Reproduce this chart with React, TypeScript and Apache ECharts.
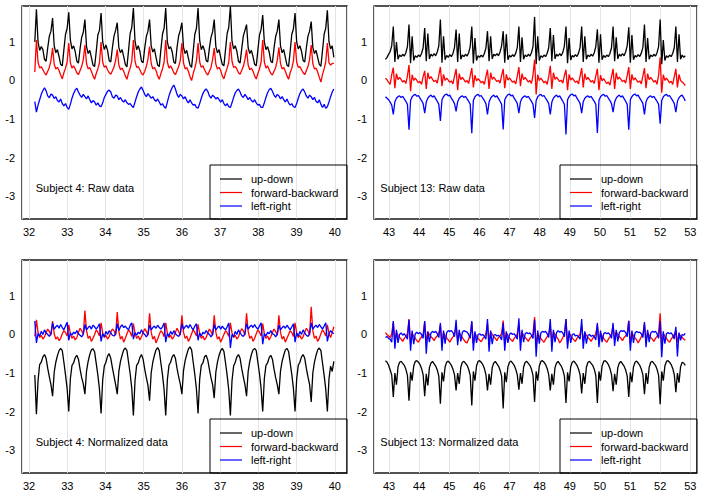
import React, { useEffect, useRef } from "react";
import * as echarts from "echarts";

// ---------- sampling ----------
const S4_T0 = 32.15;
const S4_DT = 0.0423;
const S13_T0 = 42.88;
const S13_DT = 0.0521;

// ---------- axis ranges ----------
const S4_X_RANGE = [31.815, 40.32];
const S13_X_RANGE = [42.5, 53.22];
const Y_RANGE = [-3.595, 1.933];

const SERIES_NAMES = ["up-down", "forward-backward", "left-right"];
const SERIES_COLORS = ["#000000", "#ff0000", "#0000ff"];
const PANEL_TITLES = [
  "Subject 4: Raw data",
  "Subject 13: Raw data",
  "Subject 4: Normalized data",
  "Subject 13: Normalized data",
];

// ---------- Subject 4, raw ----------
const S4_RAW_UD = [
  1.0,
  1.85, 1.0, 0.78, 0.88, 0.8, 0.55, 0.5, 0.85, 1.15, 1.28,
  1.62, 0.9, 0.72, 0.8, 0.62, 0.42, 0.38, 0.8, 1.2, 1.35,
  1.77, 1.05, 0.82, 0.9, 0.75, 0.5, 0.45, 0.82, 1.12, 1.25,
  1.58, 0.88, 0.7, 0.78, 0.6, 0.4, 0.36, 0.75, 1.18, 1.3,
  1.75, 1.0, 0.8, 0.92, 0.78, 0.52, 0.48, 0.85, 1.15, 1.3,
  1.5, 0.85, 0.72, 0.8, 0.62, 0.42, 0.35, 0.78, 1.22, 1.38,
  1.88, 1.02, 0.8, 0.9, 0.76, 0.5, 0.46, 0.84, 1.14, 1.28,
  1.58, 0.9, 0.74, 0.82, 0.6, 0.4, 0.36, 0.8, 1.2, 1.36,
  1.88, 1.0, 0.82, 0.88, 0.74, 0.48, 0.44, 0.86, 1.16, 1.3,
  1.5, 0.86, 0.7, 0.78, 0.58, 0.4, 0.34, 0.76, 1.2, 1.35,
  1.88, 1.04, 0.8, 0.9, 0.78, 0.52, 0.48, 0.84, 1.12, 1.26,
  1.58, 0.88, 0.72, 0.8, 0.6, 0.42, 0.38, 0.8, 1.22, 1.38,
  1.92, 1.02, 0.82, 0.9, 0.76, 0.5, 0.45, 0.82, 1.15, 1.3,
  1.45, 0.85, 0.7, 0.78, 0.62, 0.42, 0.38, 0.78, 1.18, 1.32,
  1.7, 1.0, 0.8, 0.88, 0.74, 0.5, 0.46, 0.84, 1.14, 1.28,
  1.58, 0.9, 0.72, 0.8, 0.6, 0.4, 0.36, 0.76, 1.2, 1.34,
  1.75, 1.0, 0.82, 0.9, 0.76, 0.52, 0.48, 0.85, 1.15, 1.28,
  1.53, 0.86, 0.7, 0.78, 0.6, 0.42, 0.37, 0.78, 1.2, 1.36,
  1.82, 1.0, 0.82, 0.9, 0.6,
];
const S4_RAW_FB = [
  0.22,
  1.05, 0.48, 0.32, 0.36, 0.28, 0.2, 0.14, 0.24, 0.34, 0.52,
  0.85, 0.42, 0.3, 0.34, 0.26, 0.14, 0.04, 0.2, 0.32, 0.48,
  0.97, 0.46, 0.32, 0.38, 0.3, 0.2, 0.15, 0.26, 0.36, 0.54,
  0.92, 0.44, 0.3, 0.34, 0.24, 0.12, 0.03, 0.18, 0.3, 0.46,
  1.0, 0.48, 0.34, 0.38, 0.28, 0.2, 0.16, 0.25, 0.35, 0.52,
  0.8, 0.4, 0.28, 0.32, 0.24, 0.12, 0.03, 0.2, 0.32, 0.5,
  1.05, 0.5, 0.34, 0.36, 0.28, 0.18, 0.14, 0.24, 0.36, 0.55,
  0.88, 0.44, 0.3, 0.34, 0.26, 0.12, 0.03, 0.18, 0.3, 0.48,
  1.05, 0.48, 0.32, 0.38, 0.3, 0.2, 0.15, 0.26, 0.36, 0.52,
  0.97, 0.46, 0.3, 0.34, 0.24, 0.1, 0.0, 0.18, 0.32, 0.5,
  0.97, 0.48, 0.34, 0.38, 0.28, 0.2, 0.14, 0.24, 0.34, 0.54,
  0.84, 0.42, 0.3, 0.34, 0.26, 0.12, 0.04, 0.2, 0.32, 0.48,
  1.0, 0.5, 0.34, 0.36, 0.3, 0.2, 0.16, 0.26, 0.36, 0.54,
  0.8, 0.4, 0.28, 0.32, 0.24, 0.12, 0.04, 0.18, 0.3, 0.48,
  1.05, 0.48, 0.32, 0.38, 0.28, 0.18, 0.14, 0.24, 0.34, 0.52,
  0.86, 0.44, 0.3, 0.34, 0.24, 0.12, 0.03, 0.2, 0.32, 0.5,
  1.0, 0.48, 0.34, 0.36, 0.28, 0.2, 0.15, 0.26, 0.36, 0.54,
  0.92, 0.44, 0.3, 0.32, 0.22, 0.08, -0.04, 0.16, 0.3, 0.48,
  0.97, 0.46, 0.4, 0.44, 0.45,
];
const S4_RAW_LR = [
  -0.55,
  -0.82, -0.64, -0.5, -0.36, -0.26, -0.19, -0.27, -0.4, -0.45, -0.35, -0.38, -0.47, -0.42, -0.52, -0.56, -0.48, -0.6, -0.66, -0.6, -0.7,
  -0.75, -0.62, -0.46, -0.34, -0.25, -0.2, -0.3, -0.38, -0.44, -0.36, -0.42, -0.48, -0.4, -0.5, -0.58, -0.52, -0.56, -0.64, -0.58, -0.66,
  -0.68, -0.58, -0.44, -0.36, -0.28, -0.25, -0.3, -0.42, -0.46, -0.38, -0.4, -0.5, -0.44, -0.52, -0.56, -0.5, -0.58, -0.62, -0.6, -0.66,
  -0.7, -0.56, -0.42, -0.3, -0.22, -0.17, -0.26, -0.36, -0.42, -0.34, -0.4, -0.46, -0.42, -0.5, -0.54, -0.48, -0.56, -0.64, -0.6, -0.68,
  -0.72, -0.56, -0.4, -0.28, -0.18, -0.12, -0.22, -0.36, -0.44, -0.36, -0.4, -0.48, -0.42, -0.52, -0.58, -0.5, -0.58, -0.64, -0.62, -0.7,
  -0.72, -0.6, -0.46, -0.34, -0.26, -0.22, -0.28, -0.4, -0.46, -0.38, -0.42, -0.48, -0.44, -0.5, -0.56, -0.5, -0.6, -0.66, -0.6, -0.68,
  -0.7, -0.58, -0.44, -0.32, -0.26, -0.22, -0.3, -0.4, -0.44, -0.36, -0.42, -0.5, -0.44, -0.52, -0.56, -0.5, -0.58, -0.64, -0.62, -0.7,
  -0.7, -0.58, -0.44, -0.32, -0.24, -0.2, -0.28, -0.38, -0.44, -0.36, -0.4, -0.48, -0.42, -0.5, -0.56, -0.48, -0.58, -0.64, -0.6, -0.68,
  -0.7, -0.6, -0.46, -0.34, -0.26, -0.22, -0.3, -0.4, -0.46, -0.38, -0.42, -0.5, -0.44, -0.54, -0.58, -0.5, -0.62, -0.7, -0.62, -0.72,
  -0.68, -0.56, -0.42, -0.3, -0.22,
];

// ---------- Subject 4, normalized ----------
const S4_NORM_UD = [
  -1.05,
  -2.07, -1.2, -0.78, -0.72, -0.58, -0.52, -0.62, -0.88, -1.1, -1.3,
  -1.6, -0.98, -0.72, -0.55, -0.42, -0.36, -0.42, -0.72, -1.05, -1.4,
  -2.0, -1.15, -0.8, -0.74, -0.6, -0.54, -0.64, -0.9, -1.12, -1.28,
  -1.55, -0.95, -0.7, -0.52, -0.4, -0.37, -0.45, -0.75, -1.05, -1.42,
  -2.05, -1.18, -0.82, -0.72, -0.56, -0.5, -0.62, -0.86, -1.08, -1.3,
  -1.55, -0.96, -0.7, -0.54, -0.4, -0.35, -0.42, -0.72, -1.02, -1.4,
  -2.1, -1.2, -0.8, -0.74, -0.6, -0.52, -0.64, -0.9, -1.12, -1.32,
  -1.72, -1.0, -0.72, -0.54, -0.4, -0.34, -0.42, -0.74, -1.05, -1.44,
  -2.1, -1.18, -0.8, -0.72, -0.58, -0.52, -0.62, -0.88, -1.1, -1.28,
  -1.55, -0.94, -0.68, -0.52, -0.38, -0.32, -0.4, -0.72, -1.04, -1.42,
  -2.05, -1.16, -0.8, -0.74, -0.58, -0.54, -0.66, -0.9, -1.12, -1.3,
  -1.65, -0.98, -0.72, -0.54, -0.42, -0.36, -0.44, -0.74, -1.06, -1.44,
  -2.1, -1.2, -0.82, -0.72, -0.58, -0.52, -0.62, -0.88, -1.1, -1.3,
  -1.6, -0.96, -0.7, -0.52, -0.4, -0.36, -0.42, -0.72, -1.02, -1.4,
  -2.0, -1.15, -0.8, -0.74, -0.6, -0.54, -0.64, -0.9, -1.12, -1.3,
  -1.55, -0.95, -0.7, -0.54, -0.4, -0.36, -0.44, -0.74, -1.04, -1.4,
  -2.0, -1.16, -0.8, -0.72, -0.58, -0.52, -0.62, -0.88, -1.1, -1.3,
  -1.75, -1.0, -0.72, -0.54, -0.4, -0.35, -0.42, -0.74, -1.06, -1.42,
  -2.0, -1.15, -0.82, -0.96, -0.7,
];
const S4_NORM_FB = [
  -0.05,
  0.38, 0.05, -0.08, -0.02, -0.12, -0.06, 0.05, 0.14, 0.08, -0.02,
  0.35, 0.02, -0.12, -0.06, -0.16, -0.1, 0.02, 0.1, 0.05, -0.04,
  0.25, 0.02, -0.1, -0.04, -0.14, -0.08, 0.06, 0.16, 0.1, 0.0,
  0.62, 0.1, -0.1, -0.04, -0.18, -0.1, 0.0, 0.12, 0.06, -0.04,
  0.3, 0.04, -0.08, -0.02, -0.12, -0.06, 0.06, 0.14, 0.1, -0.02,
  0.58, 0.08, -0.12, -0.05, -0.2, -0.1, 0.02, 0.12, 0.06, -0.05,
  0.28, 0.02, -0.1, -0.04, -0.14, -0.06, 0.05, 0.15, 0.08, -0.02,
  0.55, 0.06, -0.12, -0.05, -0.22, -0.12, 0.0, 0.1, 0.05, -0.06,
  0.3, 0.04, -0.08, -0.02, -0.12, -0.06, 0.06, 0.16, 0.08, -0.02,
  0.5, 0.06, -0.1, -0.04, -0.18, -0.1, 0.02, 0.12, 0.06, -0.04,
  0.26, 0.02, -0.1, -0.04, -0.14, -0.08, 0.04, 0.14, 0.08, -0.02,
  0.5, 0.06, -0.12, -0.06, -0.2, -0.1, 0.0, 0.1, 0.05, -0.05,
  0.3, 0.04, -0.08, -0.02, -0.12, -0.06, 0.06, 0.15, 0.1, -0.02,
  0.55, 0.08, -0.1, -0.04, -0.18, -0.1, 0.02, 0.12, 0.06, -0.04,
  0.28, 0.02, -0.1, -0.04, -0.14, -0.06, 0.05, 0.14, 0.08, -0.02,
  0.5, 0.06, -0.12, -0.05, -0.2, -0.1, 0.0, 0.1, 0.05, -0.05,
  0.3, 0.04, -0.08, -0.02, -0.12, -0.06, 0.06, 0.16, 0.1, -0.02,
  0.72, 0.1, -0.1, -0.04, -0.18, -0.1, 0.02, 0.12, 0.06, -0.04,
  0.25, 0.02, -0.08, 0.05, 0.2,
];
const S4_NORM_LR = [
  0.35,
  -0.22, 0.02, -0.04, 0.08, 0.0, 0.12, 0.04, 0.0, -0.05, 0.02, 0.3, 0.14, 0.2, 0.24, 0.16, 0.26, 0.18, 0.12, 0.22, 0.32,
  -0.15, 0.04, -0.02, 0.06, 0.02, 0.1, 0.02, -0.02, -0.06, 0.0, 0.26, 0.12, 0.18, 0.22, 0.14, 0.24, 0.2, 0.14, 0.2, 0.28,
  -0.18, 0.02, -0.06, 0.08, 0.0, 0.1, 0.04, -0.02, -0.04, 0.02, 0.28, 0.1, 0.2, 0.25, 0.18, 0.22, 0.16, 0.12, 0.24, 0.3,
  -0.12, 0.05, -0.02, 0.06, 0.02, 0.12, 0.04, 0.0, -0.06, 0.0, 0.24, 0.12, 0.18, 0.22, 0.16, 0.24, 0.18, 0.14, 0.2, 0.3,
  -0.2, 0.02, -0.04, 0.08, 0.0, 0.1, 0.02, -0.02, -0.05, 0.02, 0.28, 0.14, 0.2, 0.24, 0.16, 0.26, 0.18, 0.12, 0.22, 0.28,
  -0.15, 0.04, -0.04, 0.06, 0.02, 0.1, 0.04, 0.0, -0.06, 0.0, 0.26, 0.12, 0.18, 0.22, 0.14, 0.22, 0.16, 0.12, 0.2, 0.3,
  -0.35, 0.0, -0.06, 0.08, 0.0, 0.12, 0.04, -0.02, -0.05, 0.02, 0.28, 0.14, 0.2, 0.24, 0.18, 0.26, 0.18, 0.14, 0.22, 0.3,
  -0.25, 0.02, -0.04, 0.06, 0.02, 0.1, 0.02, 0.0, -0.06, 0.0, 0.24, 0.12, 0.18, 0.22, 0.16, 0.24, 0.18, 0.12, 0.2, 0.28,
  -0.2, 0.04, -0.04, 0.08, 0.0, 0.12, 0.04, -0.02, -0.05, 0.02, 0.3, 0.14, 0.2, 0.24, 0.18, 0.26, 0.2, 0.14, 0.22, 0.3,
  -0.18, 0.02, 0.1, 0.05, 0.02,
];

// ---------- Subject 13, raw ----------
const S13_RAW_UD = [
  0.55, 0.6, 0.68, 0.75, 0.9,
  1.4, 0.48, 1.0, 0.55, 0.66, 0.62, 0.68, 0.63, 0.72, 0.88,
  1.45, 0.45, 1.15, 0.52, 0.64, 0.6, 0.66, 0.62, 0.7, 0.85,
  1.36, 0.5, 1.22, 0.56, 0.68, 0.63, 0.7, 0.64, 0.74, 0.9,
  1.58, 0.46, 1.15, 0.54, 0.65, 0.6, 0.67, 0.62, 0.7, 0.86,
  1.32, 0.48, 1.22, 0.55, 0.66, 0.62, 0.68, 0.63, 0.72, 0.88,
  1.4, 0.44, 1.1, 0.52, 0.64, 0.6, 0.66, 0.61, 0.7, 0.84,
  1.28, 0.5, 1.15, 0.56, 0.68, 0.64, 0.7, 0.64, 0.74, 0.9,
  1.28, 0.46, 1.2, 0.54, 0.65, 0.61, 0.67, 0.62, 0.71, 0.86,
  1.4, 0.48, 1.12, 0.55, 0.66, 0.62, 0.68, 0.63, 0.72, 0.88,
  1.65, 0.42, 1.15, 0.52, 0.64, 0.6, 0.66, 0.62, 0.7, 0.85,
  1.36, 0.5, 1.18, 0.56, 0.68, 0.63, 0.7, 0.64, 0.73, 0.9,
  1.4, 0.45, 1.1, 0.53, 0.65, 0.61, 0.67, 0.62, 0.71, 0.86,
  1.4, 0.48, 1.15, 0.55, 0.66, 0.62, 0.68, 0.63, 0.72, 0.88,
  1.33, 0.46, 1.2, 0.54, 0.65, 0.6, 0.66, 0.62, 0.7, 0.85,
  1.4, 0.5, 1.12, 0.56, 0.68, 0.63, 0.7, 0.64, 0.74, 0.9,
  1.38, 0.46, 1.18, 0.54, 0.65, 0.61, 0.67, 0.62, 0.71, 0.86,
  1.45, 0.48, 1.1, 0.55, 0.66, 0.62, 0.68, 0.63, 0.72, 0.88,
  1.58, 0.42, 1.05, 0.52, 0.64, 0.6, 0.66, 0.62, 0.7, 0.85,
  1.4, 0.48, 1.2, 0.55, 0.66, 0.6, 0.64,
];
const S13_RAW_FB = [
  0.06, 0.02, -0.05, -0.1, 0.15,
  0.33, -0.2, 0.18, 0.02, 0.08, 0.02, -0.04, 0.0, -0.08, 0.12,
  0.4, -0.28, 0.15, 0.0, 0.06, 0.0, -0.06, -0.02, -0.1, 0.1,
  0.25, -0.22, 0.2, 0.04, 0.1, 0.03, -0.03, 0.01, -0.07, 0.14,
  0.35, -0.15, 0.16, 0.0, 0.06, 0.01, -0.05, -0.01, -0.09, 0.11,
  0.3, -0.25, 0.18, 0.02, 0.08, 0.02, -0.04, 0.0, -0.08, 0.12,
  0.32, -0.18, 0.14, -0.01, 0.05, 0.0, -0.06, -0.02, -0.1, 0.1,
  0.28, -0.22, 0.2, 0.03, 0.09, 0.03, -0.03, 0.01, -0.07, 0.13,
  0.3, -0.2, 0.16, 0.01, 0.07, 0.01, -0.05, -0.01, -0.09, 0.12,
  0.35, -0.15, 0.18, 0.02, 0.08, 0.02, -0.04, 0.0, -0.08, 0.14,
  0.54, -0.36, 0.15, 0.0, 0.06, 0.0, -0.06, -0.02, -0.1, 0.1,
  0.38, -0.22, 0.2, 0.03, 0.09, 0.03, -0.03, 0.01, -0.07, 0.13,
  0.28, -0.25, 0.16, 0.01, 0.07, 0.01, -0.05, -0.01, -0.09, 0.11,
  0.32, -0.18, 0.18, 0.02, 0.08, 0.02, -0.04, 0.0, -0.08, 0.12,
  0.3, -0.25, 0.14, -0.01, 0.05, -0.02, -0.08, -0.04, -0.12, 0.1,
  0.3, -0.22, 0.2, 0.03, 0.09, 0.03, -0.03, 0.01, -0.07, 0.13,
  0.35, -0.22, 0.16, 0.01, 0.07, 0.01, -0.05, -0.01, -0.09, 0.12,
  0.32, -0.2, 0.18, 0.02, 0.08, 0.02, -0.04, 0.0, -0.1, 0.14,
  0.6, -0.32, 0.15, 0.0, 0.06, 0.0, -0.06, -0.02, -0.1, 0.1,
  0.3, -0.18, 0.16, 0.0, -0.04, -0.08, -0.13,
];
const S13_RAW_LR = [
  -0.42, -0.46, -0.5, -0.56, -0.64,
  -0.88, -0.55, -0.46, -0.42, -0.4, -0.44, -0.41, -0.48, -0.54, -0.62,
  -1.28, -0.52, -0.42, -0.38, -0.36, -0.41, -0.39, -0.46, -0.52, -0.6,
  -0.85, -0.56, -0.46, -0.41, -0.38, -0.43, -0.4, -0.47, -0.54, -0.62,
  -1.05, -0.5, -0.42, -0.37, -0.35, -0.4, -0.38, -0.46, -0.52, -0.6,
  -0.8, -0.55, -0.46, -0.42, -0.4, -0.44, -0.41, -0.48, -0.54, -0.62,
  -1.37, -0.52, -0.42, -0.38, -0.36, -0.41, -0.39, -0.46, -0.52, -0.6,
  -0.88, -0.56, -0.46, -0.41, -0.38, -0.43, -0.4, -0.47, -0.54, -0.62,
  -1.27, -0.5, -0.42, -0.37, -0.35, -0.4, -0.38, -0.46, -0.52, -0.6,
  -0.85, -0.55, -0.46, -0.42, -0.4, -0.44, -0.41, -0.48, -0.54, -0.62,
  -0.97, -0.52, -0.42, -0.38, -0.36, -0.41, -0.39, -0.46, -0.52, -0.6,
  -0.88, -0.56, -0.46, -0.41, -0.38, -0.43, -0.4, -0.47, -0.54, -0.62,
  -1.4, -0.5, -0.42, -0.37, -0.35, -0.4, -0.38, -0.46, -0.52, -0.6,
  -0.85, -0.55, -0.46, -0.42, -0.4, -0.44, -0.41, -0.48, -0.54, -0.62,
  -1.36, -0.52, -0.42, -0.38, -0.36, -0.41, -0.39, -0.46, -0.52, -0.6,
  -0.82, -0.56, -0.46, -0.41, -0.38, -0.43, -0.4, -0.47, -0.54, -0.62,
  -1.28, -0.5, -0.42, -0.37, -0.35, -0.4, -0.38, -0.46, -0.52, -0.6,
  -0.88, -0.55, -0.46, -0.42, -0.4, -0.44, -0.41, -0.48, -0.54, -0.62,
  -1.12, -0.52, -0.42, -0.38, -0.36, -0.41, -0.39, -0.46, -0.52, -0.6,
  -0.82, -0.54, -0.45, -0.4, -0.38, -0.45, -0.53,
];

// ---------- Subject 13, normalized ----------
const S13_NORM_UD = [
  -0.68, -0.72, -0.8, -0.92, -1.05,
  -1.62, -1.0, -1.3, -0.84, -0.72, -0.7, -0.75, -0.8, -0.9, -1.06,
  -1.72, -0.98, -1.2, -0.82, -0.7, -0.68, -0.72, -0.78, -0.88, -1.04,
  -1.6, -1.02, -1.32, -0.86, -0.74, -0.7, -0.76, -0.82, -0.92, -1.08,
  -1.8, -0.98, -1.22, -0.84, -0.72, -0.69, -0.74, -0.8, -0.9, -1.05,
  -1.45, -1.0, -1.28, -0.85, -0.72, -0.7, -0.75, -0.8, -0.9, -1.06,
  -1.84, -0.96, -1.2, -0.82, -0.7, -0.68, -0.72, -0.78, -0.88, -1.04,
  -1.45, -1.02, -1.3, -0.86, -0.74, -0.7, -0.76, -0.82, -0.92, -1.08,
  -1.92, -0.98, -1.24, -0.84, -0.72, -0.69, -0.74, -0.8, -0.9, -1.05,
  -1.43, -1.0, -1.28, -0.85, -0.72, -0.7, -0.75, -0.8, -0.9, -1.06,
  -1.75, -0.96, -1.2, -0.82, -0.7, -0.68, -0.72, -0.78, -0.88, -1.04,
  -1.45, -1.02, -1.3, -0.86, -0.74, -0.7, -0.76, -0.82, -0.92, -1.08,
  -1.78, -0.98, -1.22, -0.84, -0.72, -0.69, -0.74, -0.8, -0.9, -1.05,
  -1.53, -1.0, -1.28, -0.85, -0.72, -0.7, -0.75, -0.8, -0.9, -1.06,
  -1.78, -0.96, -1.2, -0.82, -0.7, -0.68, -0.72, -0.78, -0.88, -1.04,
  -1.47, -1.02, -1.3, -0.86, -0.74, -0.7, -0.76, -0.82, -0.92, -1.08,
  -1.62, -0.98, -1.24, -0.84, -0.72, -0.69, -0.74, -0.8, -0.9, -1.05,
  -1.55, -1.0, -1.28, -0.85, -0.72, -0.7, -0.75, -0.8, -0.9, -1.06,
  -1.81, -0.96, -1.2, -0.82, -0.7, -0.68, -0.72, -0.78, -0.88, -1.04,
  -1.5, -1.0, -1.25, -0.84, -0.72, -0.74, -0.8,
];
const S13_NORM_FB = [
  0.05, 0.0, -0.04, -0.08, 0.02,
  0.32, -0.2, 0.05, -0.02, -0.08, -0.12, -0.18, -0.1, -0.05, 0.02,
  0.4, -0.25, 0.02, -0.04, -0.1, -0.16, -0.2, -0.12, -0.06, 0.0,
  0.32, -0.18, 0.06, 0.0, -0.06, -0.1, -0.16, -0.08, -0.04, 0.03,
  0.24, -0.22, 0.04, -0.03, -0.09, -0.14, -0.2, -0.12, -0.06, 0.01,
  0.2, -0.16, 0.05, -0.02, -0.08, -0.14, -0.2, -0.22, -0.12, 0.0,
  0.32, -0.24, 0.03, -0.04, -0.1, -0.15, -0.19, -0.11, -0.06, 0.01,
  0.28, -0.18, 0.06, 0.0, -0.06, -0.1, -0.16, -0.08, -0.04, 0.03,
  0.36, -0.25, 0.04, -0.03, -0.09, -0.14, -0.18, -0.1, -0.05, 0.02,
  0.28, -0.18, 0.05, -0.02, -0.08, -0.12, -0.18, -0.1, -0.05, 0.02,
  0.45, -0.28, 0.02, -0.04, -0.1, -0.16, -0.2, -0.12, -0.06, 0.0,
  0.24, -0.18, 0.06, 0.0, -0.06, -0.12, -0.22, -0.16, -0.08, 0.02,
  0.4, -0.25, 0.04, -0.03, -0.09, -0.14, -0.18, -0.1, -0.05, 0.02,
  0.24, -0.18, 0.05, -0.02, -0.08, -0.12, -0.18, -0.1, -0.05, 0.02,
  0.24, -0.2, 0.03, -0.04, -0.1, -0.16, -0.2, -0.12, -0.06, 0.0,
  0.24, -0.16, 0.06, 0.0, -0.06, -0.1, -0.16, -0.08, -0.04, 0.03,
  0.36, -0.24, 0.04, -0.03, -0.09, -0.14, -0.22, -0.14, -0.06, 0.01,
  0.28, -0.18, 0.05, -0.02, -0.08, -0.12, -0.18, -0.1, -0.05, 0.04,
  0.55, -0.3, 0.02, -0.04, -0.1, -0.16, -0.2, -0.12, -0.06, 0.0,
  0.1, -0.2, 0.02, -0.04, -0.08, -0.12, -0.15,
];
const S13_NORM_LR = [
  -0.08, -0.05, -0.1, -0.12, -0.2,
  0.35, -0.37, 0.12, -0.22, 0.0, 0.04, -0.02, 0.02, -0.04, -0.12,
  0.38, -0.42, 0.1, -0.25, 0.02, 0.06, 0.02, 0.05, 0.0, -0.1,
  0.35, -0.5, 0.08, -0.2, 0.04, 0.08, 0.05, 0.08, 0.02, -0.08,
  0.3, -0.42, 0.1, -0.24, 0.05, 0.1, 0.08, 0.1, 0.05, -0.06,
  0.38, -0.28, 0.12, -0.18, 0.06, 0.1, 0.08, 0.06, 0.0, -0.1,
  0.35, -0.42, 0.08, -0.22, 0.0, 0.02, -0.02, 0.0, -0.05, -0.12,
  0.4, -0.45, 0.1, -0.25, -0.02, 0.0, -0.04, -0.02, -0.06, -0.14,
  0.3, -0.42, 0.08, -0.22, 0.0, 0.04, 0.0, 0.02, -0.04, -0.12,
  0.42, -0.42, 0.12, -0.2, 0.02, 0.05, 0.02, 0.04, -0.02, -0.1,
  0.38, -0.58, 0.1, -0.24, 0.04, 0.08, 0.06, 0.08, 0.02, -0.08,
  0.4, -0.45, 0.12, -0.2, 0.05, 0.1, 0.06, 0.08, 0.04, -0.06,
  0.4, -0.37, 0.1, -0.22, 0.0, 0.02, -0.04, -0.02, -0.06, -0.12,
  0.4, -0.37, 0.08, -0.24, -0.02, 0.0, -0.05, -0.02, -0.06, -0.14,
  0.3, -0.33, 0.1, -0.2, 0.02, 0.05, 0.02, 0.04, 0.0, -0.1,
  0.3, -0.3, 0.12, -0.18, 0.05, 0.1, 0.08, 0.1, 0.05, -0.06,
  0.35, -0.42, 0.1, -0.22, 0.04, 0.08, 0.05, 0.06, 0.02, -0.08,
  0.32, -0.33, 0.12, -0.2, 0.04, 0.08, 0.06, 0.08, 0.02, -0.1,
  0.35, -0.59, 0.08, -0.24, 0.02, 0.05, 0.02, 0.04, -0.02, -0.12,
  0.2, -0.57, 0.05, -0.15, 0.0, -0.02, 0.03,
];

const FONT = '"Liberation Sans", Arial, Helvetica, sans-serif';

function toPairs(t0: number, dt: number, vals: number[]) {
  return vals.map((v, i) => [Math.round((t0 + i * dt) * 10000) / 10000, v]);
}

const PANELS = [
  { t0: S4_T0, dt: S4_DT, xr: S4_X_RANGE, data: [S4_RAW_UD, S4_RAW_FB, S4_RAW_LR] },
  { t0: S13_T0, dt: S13_DT, xr: S13_X_RANGE, data: [S13_RAW_UD, S13_RAW_FB, S13_RAW_LR] },
  { t0: S4_T0, dt: S4_DT, xr: S4_X_RANGE, data: [S4_NORM_UD, S4_NORM_FB, S4_NORM_LR] },
  { t0: S13_T0, dt: S13_DT, xr: S13_X_RANGE, data: [S13_NORM_UD, S13_NORM_FB, S13_NORM_LR] },
];

// layout
const GRIDS = [
  { left: 22, top: 6, width: 325, height: 213, titleX: 35.7 },
  { left: 374, top: 6, width: 323, height: 213, titleX: 380.3 },
  { left: 22, top: 260, width: 325, height: 213, titleX: 35.7 },
  { left: 374, top: 260, width: 323, height: 213, titleX: 380.3 },
];

const intLabel = (v: number) => (Math.abs(v - Math.round(v)) < 1e-6 ? String(Math.round(v)) : "");

function buildOption() {
  const grid = GRIDS.map((g) => ({
    left: g.left,
    top: g.top,
    width: g.width,
    height: g.height,
    show: true,
    borderColor: "#1a1a1a",
    borderWidth: 1.4,
    backgroundColor: "transparent",
    containLabel: false,
  }));
  const xAxis = PANELS.map((p, i) => ({
    type: "value",
    gridIndex: i,
    min: p.xr[0],
    max: p.xr[1],
    minInterval: 1,
    maxInterval: 1,
    splitNumber: 10,
    axisLine: { show: false },
    axisTick: { show: false },
    axisLabel: {
      fontSize: 11,
      fontFamily: FONT,
      color: "#000",
      margin: 7,
      showMinLabel: false,
      showMaxLabel: false,
      formatter: intLabel,
    },
    splitLine: { show: true, lineStyle: { color: "#e4e4e4", width: 1 } },
  }));
  const yAxis = PANELS.map((_p, i) => ({
    type: "value",
    gridIndex: i,
    min: Y_RANGE[0],
    max: Y_RANGE[1],
    minInterval: 1,
    maxInterval: 1,
    splitNumber: 6,
    axisLine: { show: false },
    axisTick: { show: false },
    axisLabel: {
      fontSize: 11,
      fontFamily: FONT,
      color: "#000",
      margin: 7,
      showMinLabel: false,
      showMaxLabel: false,
      formatter: intLabel,
    },
    splitLine: { show: false },
  }));
  const series: any[] = [];
  PANELS.forEach((p, pi) => {
    p.data.forEach((vals, si) => {
      series.push({
        type: "line",
        name: SERIES_NAMES[si],
        xAxisIndex: pi,
        yAxisIndex: pi,
        data: toPairs(p.t0, p.dt, vals),
        showSymbol: false,
        symbol: "none",
        silent: true,
        z: 3 + si,
        lineStyle: { color: SERIES_COLORS[si], width: 1.3 },
        itemStyle: { color: SERIES_COLORS[si] },
      });
    });
  });

  const graphic: any[] = [];
  GRIDS.forEach((g, gi) => {
    graphic.push({
      type: "text",
      x: g.titleX,
      y: g.top + 181.6,
      z: 20,
      silent: true,
      style: {
        text: PANEL_TITLES[gi],
        font: `11px ${FONT}`,
        fill: "#000",
        align: "left",
        verticalAlign: "middle",
      },
    });
    const right = g.left + g.width;
    const bottom = g.top + g.height;
    const bx = right - 137;
    const by = bottom - 54;
    graphic.push({
      type: "rect",
      z: 20,
      silent: true,
      shape: { x: bx, y: by, width: right - bx, height: bottom - by },
      style: { fill: "transparent", stroke: "#000", lineWidth: 1 },
    });
    SERIES_NAMES.forEach((name, si) => {
      const ry = by + 14 + si * 13.5;
      graphic.push({
        type: "line",
        z: 20,
        silent: true,
        shape: { x1: bx + 10, y1: ry, x2: bx + 32, y2: ry },
        style: { stroke: SERIES_COLORS[si], lineWidth: 1.2 },
      });
      graphic.push({
        type: "text",
        z: 20,
        silent: true,
        x: bx + 41,
        y: ry,
        style: {
          text: name,
          font: `11px ${FONT}`,
          fill: "#000",
          align: "left",
          verticalAlign: "middle",
        },
      });
    });
  });

  return {
    animation: false,
    backgroundColor: "#ffffff",
    textStyle: { fontFamily: FONT },
    grid,
    xAxis,
    yAxis,
    series,
    graphic,
  };
}

export default function App() {
  const ref = useRef<HTMLDivElement | null>(null);
  useEffect(() => {
    if (!ref.current) return;
    const chart = echarts.init(ref.current, undefined, { renderer: "svg" });
    chart.setOption(buildOption() as any);
    return () => {
      chart.dispose();
    };
  }, []);
  return (
    <div
      ref={ref}
      style={{ position: "absolute", left: 0, top: 0, width: 704, height: 497, background: "#fff" }}
    />
  );
}
